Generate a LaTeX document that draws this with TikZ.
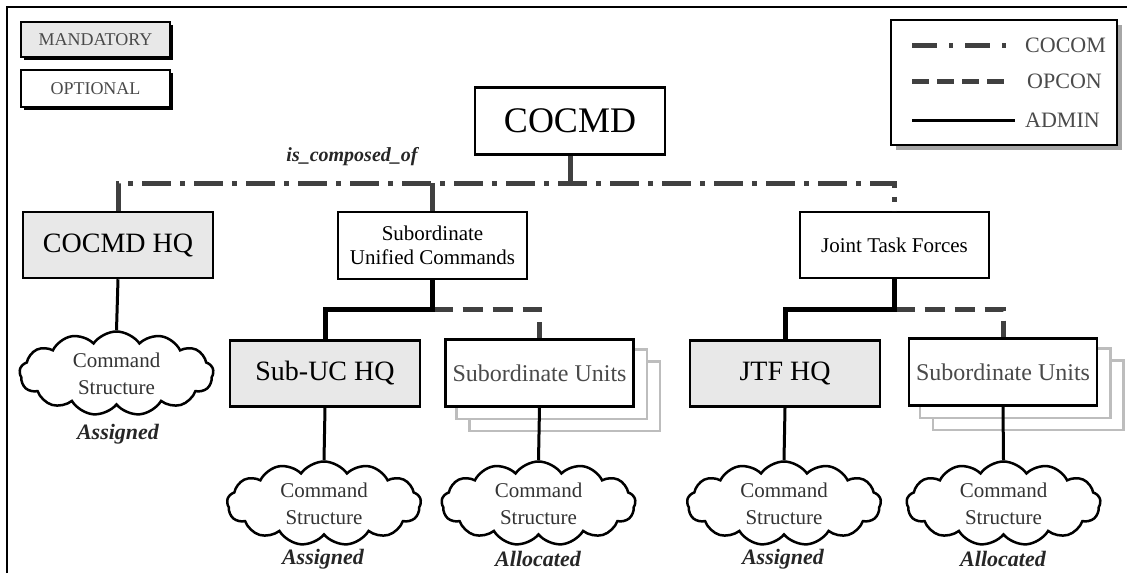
\documentclass[tikz,border=0pt]{standalone}
\usepackage{fontspec}
\setmainfont{Liberation Serif}
\usetikzlibrary{shapes.symbols,shadows,backgrounds}
\definecolor{mgray}{HTML}{E8E8E8}
\definecolor{lgray}{HTML}{404040}
\definecolor{tgray}{HTML}{4A4A4A}
\definecolor{sgray}{HTML}{BDBDBD}
\begin{document}
\begin{tikzpicture}[x=1pt,y=-1pt,
  box/.style={draw=black, line width=2.5pt, fill=white, inner sep=0pt, align=center, font=\fontsize{21}{24}\selectfont},
  mandbox/.style={box, fill=mgray},
  hqbox/.style={mandbox, minimum width=190pt, minimum height=66pt, font=\fontsize{28}{30}\selectfont},
  subbox/.style={box, minimum width=188pt, minimum height=67pt, text=tgray, font=\fontsize{24}{26}\selectfont},
  cloudnode/.style={cloud, cloud puffs=13, cloud puff arc=110, cloud ignores aspect, draw=black, line width=2.5pt, fill=white, minimum width=194pt, minimum height=84pt, inner sep=0pt, align=center, text=black!80, font=\fontsize{21}{27}\selectfont},
  lab/.style={inner sep=0pt, text=black!85, font=\fontsize{22}{24}\selectfont\bfseries\itshape},
  legtext/.style={inner sep=0pt, anchor=west, text=tgray, font=\fontsize{22}{24}\selectfont},
  cocom/.style={draw=lgray, line width=5pt, dash pattern=on 29pt off 9pt on 5pt off 9pt},
  cocomsolid/.style={draw=lgray, line width=5pt},
  opcon/.style={draw=lgray, line width=5pt, dash pattern=on 20pt off 10pt},
  admin/.style={draw=black, line width=5pt},
  thinadmin/.style={draw=black, line width=3pt},
  stackpage/.style={draw=sgray, line width=2.5pt, fill=white}
]
\useasboundingbox (0,0) rectangle (1127,573);
% frame
\draw[line width=2pt] (7,573) -- (7,7) -- (1127,7);

% key boxes
\node[mandbox, minimum width=149pt, minimum height=35pt, text=tgray, font=\fontsize{18}{20}\selectfont,
  drop shadow={fill=black, opacity=1, shadow xshift=3pt, shadow yshift=-3pt}] (mand) at (95.5,39.5) {MANDATORY};
\node[box, minimum width=149pt, minimum height=37pt, text=tgray, font=\fontsize{18}{20}\selectfont,
  drop shadow={fill=black, opacity=1, shadow xshift=3pt, shadow yshift=-3pt}] (opt) at (95.5,88.5) {OPTIONAL};

% legend
\node[box, minimum width=226pt, minimum height=125pt,
  drop shadow={fill=gray!70, opacity=1, shadow xshift=5pt, shadow yshift=-5pt}] (legend) at (1004,82.5) {};
\node[legtext] (lcocom) at (1025,45) {COCOM};
\node[legtext] (lopcon) at (1027,81) {OPCON};
\node[legtext] (ladmin) at (1025,120) {ADMIN};
\coordinate (lc1) at (912,45);  \coordinate (lc2) at (1008,45);
\coordinate (lo1) at (912,81);  \coordinate (lo2) at (1008,81);
\coordinate (la1) at (912,120); \coordinate (la2) at (1015,120);
\draw[cocom, dash pattern=on 25pt off 12pt on 4pt off 12pt] (lc1) -- (lc2);
\draw[opcon, dash pattern=on 17pt off 8pt] (lo1) -- (lo2);
\draw[thinadmin] (la1) -- (la2);

% main boxes
\node[box, minimum width=190pt, minimum height=67pt, font=\fontsize{36}{38}\selectfont] (cocmd) at (570,121) {COCMD};
\node[hqbox] (cocmdhq) at (118,245) {COCMD HQ};
\node[box, minimum width=189pt, minimum height=67pt] (suc) at (432.5,245.5) {Subordinate\\Unified Commands};
\node[box, minimum width=189pt, minimum height=66pt] (jtf) at (894.5,245) {Joint Task Forces};
\node[hqbox] (subuchq) at (325,373.5) {Sub-UC HQ};
\node[hqbox] (jtfhq) at (785,373.5) {JTF HQ};
\node[subbox] (su1) at (539.5,373) {Subordinate Units};
\node[subbox] (su2) at (1003,372) {Subordinate Units};

% stacked pages behind subordinate units
\begin{scope}[on background layer]
\foreach \n in {su1,su2}{
  \draw[stackpage] ([xshift=25pt,yshift=-23pt]\n.north west) rectangle ([xshift=25pt,yshift=-23pt]\n.south east);
  \draw[stackpage] ([xshift=12pt,yshift=-11pt]\n.north west) rectangle ([xshift=12pt,yshift=-11pt]\n.south east);
}
\end{scope}

% clouds
\node[cloudnode] (cl0) at (116.5,373.5) {Command\\Structure};
\node[cloudnode] (cl1) at (324,503.5) {Command\\Structure};
\node[cloudnode] (cl2) at (538.5,503.5) {Command\\Structure};
\node[cloudnode] (cl3) at (784,503.5) {Command\\Structure};
\node[cloudnode] (cl4) at (1003.5,503.5) {Command\\Structure};

% labels
\node[lab] (a0) at (118,434) {Assigned};
\node[lab] (a1) at (323,559) {Assigned};
\node[lab] (a2) at (538,559) {Allocated};
\node[lab] (a3) at (783,559) {Assigned};
\node[lab] (a4) at (1003,559) {Allocated};
\node[inner sep=0pt, text=black!85, font=\fontsize{20}{22}\selectfont\bfseries\itshape] (isc) at (352,157) {is\_composed\_of};

% COCOM connectors
\coordinate (bus) at (0,183);
\draw[cocom] (cocmdhq.north) -- (cocmdhq.north |- bus) -- (jtf.north |- bus) -- (jtf.north);
\draw[cocomsolid] (cocmd.south) -- (cocmd.south |- bus);
\draw[cocomsolid] (suc.north) -- (suc.north |- bus);

% SUC branch
\coordinate (j1) at (432.5,309);
\draw[opcon] (j1) -| (su1.north);
\draw[admin] (suc.south) -- (j1) -| (subuchq.north);

% JTF branch
\coordinate (j2) at (894.5,309);
\draw[opcon] (j2) -| (su2.north);
\draw[admin] (jtf.south) -- (j2) -| (jtfhq.north);

% to clouds
\draw[thinadmin] (cocmdhq.south) -- (cl0.north);
\draw[thinadmin] (subuchq.south) -- (cl1.north);
\draw[thinadmin] (su1.south) -- (cl2.north);
\draw[thinadmin] (jtfhq.south) -- (cl3.north);
\draw[thinadmin] (su2.south) -- (cl4.north);
\end{tikzpicture}
\end{document}
